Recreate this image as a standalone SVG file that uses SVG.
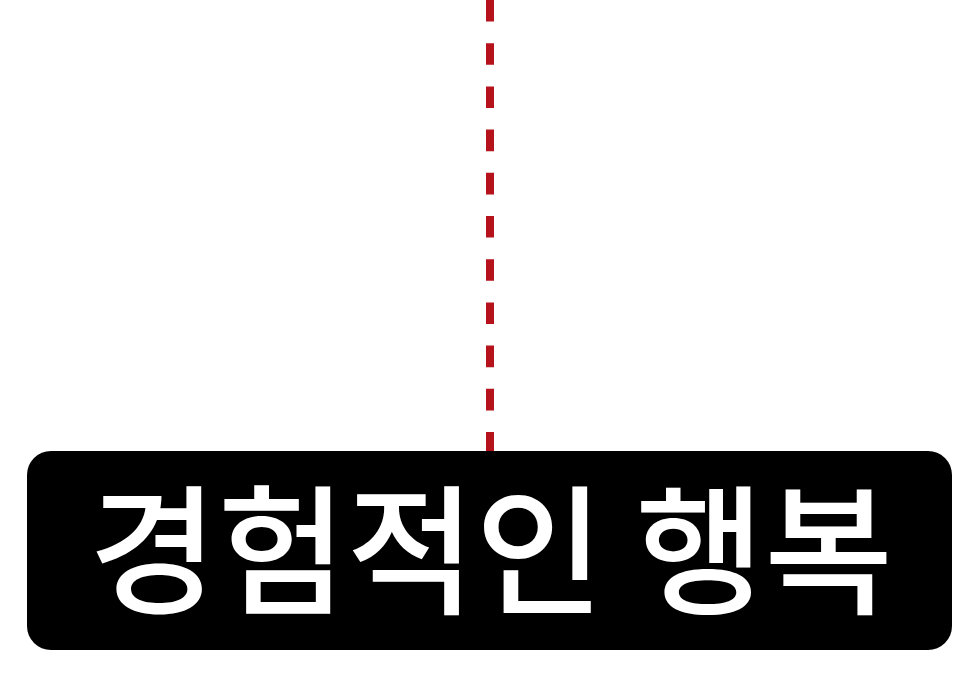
<svg xmlns="http://www.w3.org/2000/svg" width="980" height="681" viewBox="0 0 980 681">
<style>
.conn{stroke:#b5121b;stroke-width:8;stroke-dasharray:21.6 21.6;fill:none}
.box{fill:#000}
.lbl{font-family:"Noto Sans CJK KR","Noto Sans",sans-serif;font-weight:500;fill:#fff;font-size:140px;text-anchor:middle}
</style>
<rect width="980" height="681" fill="#fff"/>
<g id="connectors">
<line class="conn" x1="490" y1="0" x2="490" y2="452"/>
</g>
<g id="node-experiential-happiness">
<rect class="box" x="27" y="451" width="925" height="199" rx="24" ry="24"/>
<text class="lbl" x="491" y="603">경험적인 행복</text>
</g>
</svg>
